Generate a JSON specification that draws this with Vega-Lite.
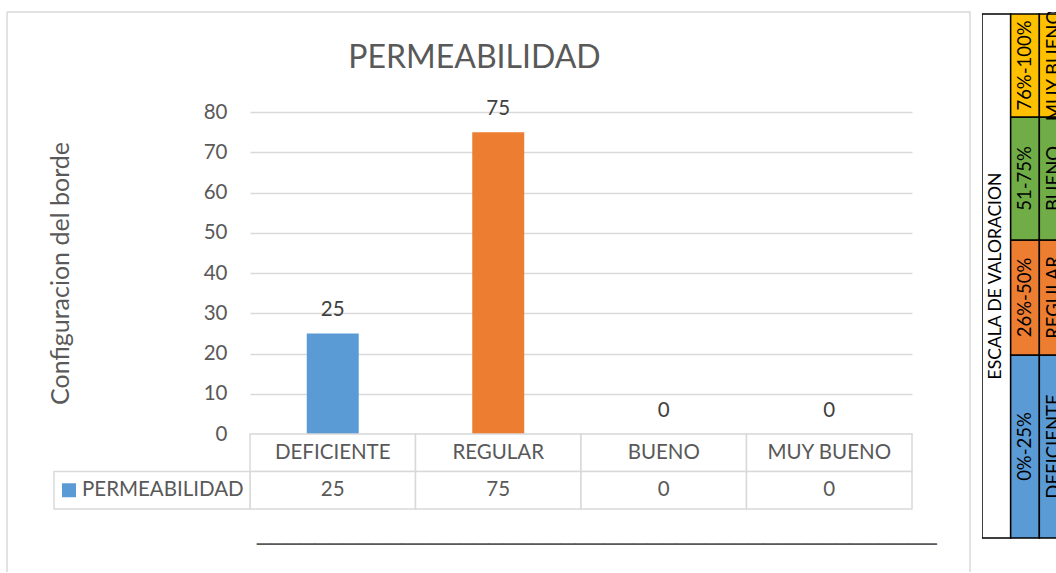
{
  "$schema": "https://vega.github.io/schema/vega-lite/v6.json",
  "padding": {"left": 6, "top": 11, "right": 0, "bottom": 0},
  "autosize": {"type": "pad"},
  "background": "white",
  "spacing": 12,
  "bounds": "flush",
  "config": {"font": "Lato", "view": {"stroke": null}},
  "datasets": {
    "permeabilidad": [
      {"nivel": "DEFICIENTE", "valor": 25},
      {"nivel": "REGULAR", "valor": 75},
      {"nivel": "BUENO", "valor": 0},
      {"nivel": "MUY BUENO", "valor": 0}
    ],
    "serie": [{"serie": "PERMEABILIDAD"}],
    "titulo": [{"titulo": "ESCALA DE VALORACION"}],
    "escala": [
      {"rango": "0%-25%", "nivel": "DEFICIENTE", "desde": 0, "hasta": 25},
      {"rango": "26%-50%", "nivel": "REGULAR", "desde": 25, "hasta": 50},
      {"rango": "51-75%", "nivel": "BUENO", "desde": 50, "hasta": 75},
      {"rango": "76%-100%", "nivel": "MUY BUENO", "desde": 75, "hasta": 100}
    ]
  },
  "resolve": {"scale": {"color": "independent"}},
  "hconcat": [
    {
      "width": 963,
      "height": 560,
      "view": {"stroke": "#d9d9d9", "strokeWidth": 1.5, "strokeDash": [1523, 963, 560, 0]},
      "title": {"text": "PERMEABILIDAD", "fontSize": 32, "fontWeight": "normal", "color": "#595959", "font": "Lato", "anchor": "middle", "baseline": "alphabetic", "offset": -88, "dx": -14},
      "resolve": {"scale": {"x": "independent", "y": "independent"}},
      "layer": [
        {
          "data": {"name": "permeabilidad"},
          "mark": {"type": "bar", "width": {"band": 0.314}},
          "encoding": {
            "x": {"field": "nivel", "type": "nominal", "sort": null, "scale": {"domain": ["DEFICIENTE", "REGULAR", "BUENO", "MUY BUENO"], "range": [243, 905], "paddingInner": 0, "paddingOuter": 0}, "axis": null},
            "y": {"field": "valor", "type": "quantitative", "scale": {"domain": [0, 80], "range": [422, 100], "nice": false, "zero": true},
              "axis": {"orient": "left", "offset": -243, "values": [0, 10, 20, 30, 40, 50, 60, 70, 80], "grid": true, "gridColor": "#d9d9d9", "gridWidth": 1.3, "domain": false, "ticks": false, "tickSize": 0, "labelPadding": 23, "labelFontSize": 20.5, "labelColor": "#595959", "labelFont": "Lato", "title": "Configuracion del borde", "titleFont": "Lato", "titleFontSize": 25, "titleFontWeight": "normal", "titleColor": "#595959", "titlePadding": 130}},
            "color": {"field": "nivel", "type": "nominal", "scale": {"domain": ["DEFICIENTE", "REGULAR", "BUENO", "MUY BUENO"], "range": ["#5B9BD5", "#ED7D31", "#70AD47", "#FFC000"]}, "legend": null}
          }
        },
        {
          "data": {"name": "permeabilidad"},
          "mark": {"type": "text", "baseline": "alphabetic", "dy": -17, "fontSize": 20.5, "color": "#404040"},
          "encoding": {
            "x": {"field": "nivel", "type": "nominal", "sort": null, "scale": {"domain": ["DEFICIENTE", "REGULAR", "BUENO", "MUY BUENO"], "range": [243, 905], "paddingInner": 0, "paddingOuter": 0}, "axis": null},
            "y": {"field": "valor", "type": "quantitative", "scale": {"domain": [0, 80], "range": [422, 100], "nice": false, "zero": true}, "axis": null},
            "text": {"field": "valor", "type": "quantitative"}
          }
        },
        {
          "data": {"name": "permeabilidad"},
          "mark": {"type": "rect", "fill": "white", "stroke": "#d9d9d9", "strokeWidth": 1.5},
          "encoding": {
            "x": {"field": "nivel", "type": "nominal", "sort": null, "scale": {"domain": ["DEFICIENTE", "REGULAR", "BUENO", "MUY BUENO"], "range": [243, 905], "paddingInner": 0, "paddingOuter": 0}, "axis": null},
            "y": {"datum": "cat", "type": "nominal", "scale": {"domain": ["cat", "val"], "range": [422, 497], "paddingInner": 0, "paddingOuter": 0}, "axis": null}
          }
        },
        {
          "data": {"name": "permeabilidad"},
          "mark": {"type": "rect", "fill": "white", "stroke": "#d9d9d9", "strokeWidth": 1.5},
          "encoding": {
            "x": {"field": "nivel", "type": "nominal", "sort": null, "scale": {"domain": ["DEFICIENTE", "REGULAR", "BUENO", "MUY BUENO"], "range": [243, 905], "paddingInner": 0, "paddingOuter": 0}, "axis": null},
            "y": {"datum": "val", "type": "nominal", "scale": {"domain": ["cat", "val"], "range": [422, 497], "paddingInner": 0, "paddingOuter": 0}, "axis": null}
          }
        },
        {
          "data": {"name": "permeabilidad"},
          "mark": {"type": "text", "fontSize": 20.5, "color": "#595959", "baseline": "middle"},
          "encoding": {
            "x": {"field": "nivel", "type": "nominal", "sort": null, "scale": {"domain": ["DEFICIENTE", "REGULAR", "BUENO", "MUY BUENO"], "range": [243, 905], "paddingInner": 0, "paddingOuter": 0}, "axis": null},
            "y": {"datum": "cat", "type": "nominal", "scale": {"domain": ["cat", "val"], "range": [422, 497], "paddingInner": 0, "paddingOuter": 0}, "axis": null},
            "text": {"field": "nivel", "type": "nominal"}
          }
        },
        {
          "data": {"name": "permeabilidad"},
          "mark": {"type": "text", "fontSize": 20.5, "color": "#595959", "baseline": "middle"},
          "encoding": {
            "x": {"field": "nivel", "type": "nominal", "sort": null, "scale": {"domain": ["DEFICIENTE", "REGULAR", "BUENO", "MUY BUENO"], "range": [243, 905], "paddingInner": 0, "paddingOuter": 0}, "axis": null},
            "y": {"datum": "val", "type": "nominal", "scale": {"domain": ["cat", "val"], "range": [422, 497], "paddingInner": 0, "paddingOuter": 0}, "axis": null},
            "text": {"field": "valor", "type": "quantitative"}
          }
        },
        {
          "data": {"name": "serie"},
          "mark": {"type": "rect", "fill": "white", "stroke": "#d9d9d9", "strokeWidth": 1.5},
          "encoding": {
            "x": {"field": "serie", "type": "nominal", "scale": {"domain": ["PERMEABILIDAD"], "range": [47, 243], "paddingInner": 0, "paddingOuter": 0}, "axis": null},
            "y": {"datum": "val", "type": "nominal", "scale": {"domain": ["cat", "val"], "range": [422, 497], "paddingInner": 0, "paddingOuter": 0}, "axis": null}
          }
        },
        {
          "data": {"name": "serie"},
          "mark": {"type": "point", "shape": "square", "size": 196, "filled": true, "opacity": 1, "color": "#5B9BD5"},
          "encoding": {
            "x": {"field": "serie", "type": "nominal", "scale": {"domain": ["PERMEABILIDAD"], "range": [52, 72], "paddingInner": 0, "paddingOuter": 0}, "axis": null},
            "y": {"datum": "val", "type": "nominal", "scale": {"domain": ["cat", "val"], "range": [422, 497], "paddingInner": 0, "paddingOuter": 0}, "axis": null}
          }
        },
        {
          "data": {"name": "serie"},
          "mark": {"type": "text", "align": "left", "baseline": "middle", "fontSize": 20.5, "color": "#595959"},
          "encoding": {
            "x": {"field": "serie", "type": "nominal", "scale": {"domain": ["PERMEABILIDAD"], "range": [65, 85], "paddingInner": 0, "paddingOuter": 0}, "axis": null},
            "y": {"datum": "val", "type": "nominal", "scale": {"domain": ["cat", "val"], "range": [422, 497], "paddingInner": 0, "paddingOuter": 0}, "axis": null},
            "text": {"field": "serie", "type": "nominal"}
          }
        },
        {
          "data": {"name": "serie"},
          "mark": {"type": "text", "align": "left", "baseline": "alphabetic", "font": "Liberation Sans", "fontSize": 26, "color": "#595959", "dy": 50},
          "encoding": {
            "x": {"datum": "DEFICIENTE", "type": "nominal", "scale": {"domain": ["DEFICIENTE"], "range": [240, 260], "paddingInner": 0, "paddingOuter": 0}, "axis": null},
            "y": {"datum": "val", "type": "nominal", "scale": {"domain": ["cat", "val"], "range": [422, 497], "paddingInner": 0, "paddingOuter": 0}, "axis": null},
            "text": {"value": "_______________________________________________"}
          }
        }
      ]
    },
    {
      "width": 74,
      "height": 560,
      "view": {"stroke": null},
      "resolve": {"scale": {"y": "independent"}},
      "layer": [
        {
          "data": {"name": "titulo"},
          "mark": {"type": "rect", "fill": "white", "stroke": "black", "strokeWidth": 1.5, "clip": true},
          "encoding": {
            "x": {"datum": "titulo", "type": "nominal", "scale": {"domain": ["titulo", "rango", "nivel"], "range": [0, 86], "paddingInner": 0, "paddingOuter": 0}, "axis": null},
            "y": {"field": "titulo", "type": "nominal", "scale": {"domain": ["ESCALA DE VALORACION"], "range": [2, 526], "paddingInner": 0, "paddingOuter": 0}, "axis": null}
          }
        },
        {
          "data": {"name": "titulo"},
          "mark": {"type": "text", "angle": 270, "fontSize": 17.5, "color": "black", "baseline": "middle", "clip": true},
          "encoding": {
            "x": {"datum": "titulo", "type": "nominal", "scale": {"domain": ["titulo", "rango", "nivel"], "range": [0, 86], "paddingInner": 0, "paddingOuter": 0}, "axis": null},
            "y": {"field": "titulo", "type": "nominal", "scale": {"domain": ["ESCALA DE VALORACION"], "range": [2, 526], "paddingInner": 0, "paddingOuter": 0}, "axis": null},
            "text": {"field": "titulo", "type": "nominal"}
          }
        },
        {
          "data": {"name": "escala"},
          "mark": {"type": "rect", "stroke": "black", "strokeWidth": 1.5, "clip": true},
          "encoding": {
            "x": {"datum": "rango", "type": "nominal", "scale": {"domain": ["titulo", "rango", "nivel"], "range": [0, 86], "paddingInner": 0, "paddingOuter": 0}, "axis": null},
            "y": {"field": "desde", "type": "quantitative", "scale": {"domain": [0, 25, 50, 75, 100], "range": [526, 343, 228, 105, 2], "nice": false, "zero": false}, "axis": null},
            "y2": {"field": "hasta"},
            "color": {"field": "nivel", "type": "nominal", "scale": {"domain": ["DEFICIENTE", "REGULAR", "BUENO", "MUY BUENO"], "range": ["#5B9BD5", "#ED7D31", "#70AD47", "#FFC000"]}, "legend": null}
          }
        },
        {
          "data": {"name": "escala"},
          "mark": {"type": "rect", "stroke": "black", "strokeWidth": 1.5, "clip": true},
          "encoding": {
            "x": {"datum": "nivel", "type": "nominal", "scale": {"domain": ["titulo", "rango", "nivel"], "range": [0, 86], "paddingInner": 0, "paddingOuter": 0}, "axis": null},
            "y": {"field": "desde", "type": "quantitative", "scale": {"domain": [0, 25, 50, 75, 100], "range": [526, 343, 228, 105, 2], "nice": false, "zero": false}, "axis": null},
            "y2": {"field": "hasta"},
            "color": {"field": "nivel", "type": "nominal", "scale": {"domain": ["DEFICIENTE", "REGULAR", "BUENO", "MUY BUENO"], "range": ["#5B9BD5", "#ED7D31", "#70AD47", "#FFC000"]}, "legend": null}
          }
        },
        {
          "data": {"name": "escala"},
          "transform": [{"fold": ["desde", "hasta"], "as": ["limite", "pct"]}],
          "mark": {"type": "text", "angle": 270, "fontSize": 18.5, "color": "black", "baseline": "middle", "clip": true},
          "encoding": {
            "x": {"datum": "rango", "type": "nominal", "scale": {"domain": ["titulo", "rango", "nivel"], "range": [0, 86], "paddingInner": 0, "paddingOuter": 0}, "axis": null},
            "y": {"aggregate": "mean", "field": "pct", "type": "quantitative", "scale": {"domain": [0, 25, 50, 75, 100], "range": [526, 343, 228, 105, 2], "nice": false, "zero": false}, "axis": null},
            "text": {"field": "rango", "type": "nominal"}
          }
        },
        {
          "data": {"name": "escala"},
          "transform": [{"fold": ["desde", "hasta"], "as": ["limite", "pct"]}],
          "mark": {"type": "text", "angle": 270, "fontSize": 18.5, "color": "black", "baseline": "middle", "clip": true},
          "encoding": {
            "x": {"datum": "nivel", "type": "nominal", "scale": {"domain": ["titulo", "rango", "nivel"], "range": [0, 86], "paddingInner": 0, "paddingOuter": 0}, "axis": null},
            "y": {"aggregate": "mean", "field": "pct", "type": "quantitative", "scale": {"domain": [0, 25, 50, 75, 100], "range": [526, 343, 228, 105, 2], "nice": false, "zero": false}, "axis": null},
            "text": {"field": "nivel", "type": "nominal"}
          }
        }
      ]
    }
  ]
}
